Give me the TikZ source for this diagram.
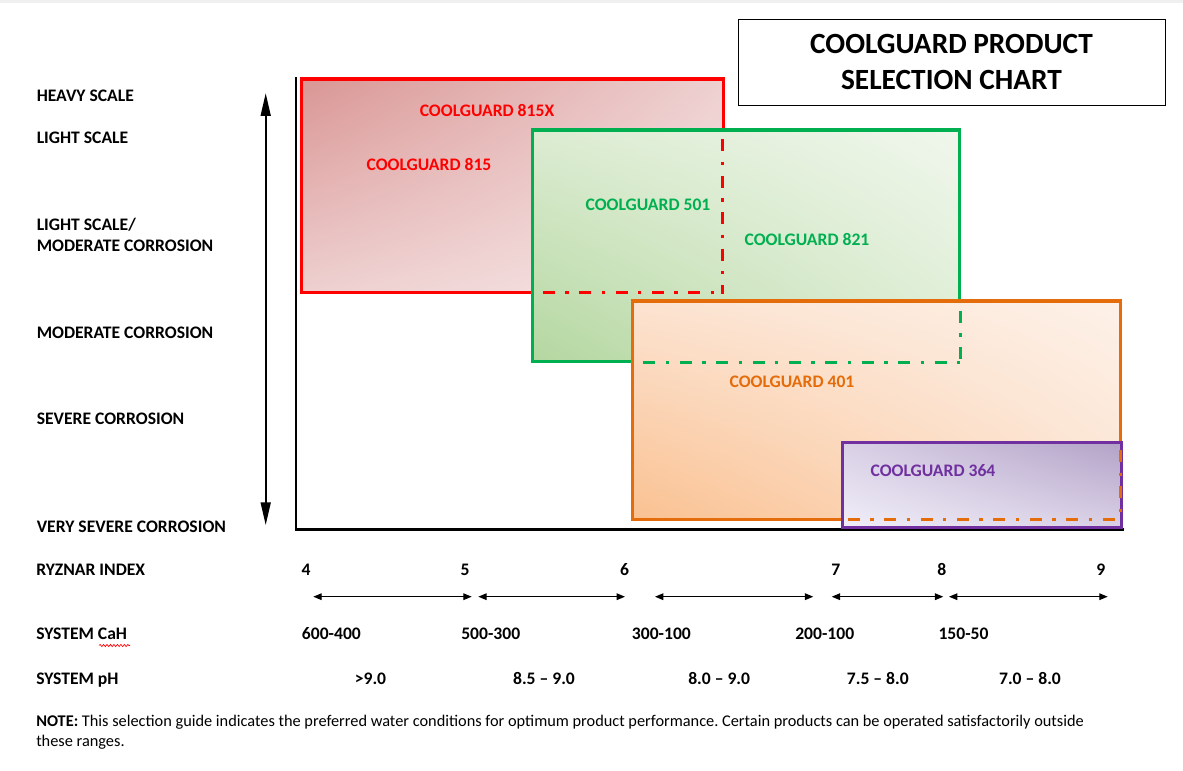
\documentclass[tikz,border=0pt]{standalone}
\usepackage{fontspec}
\setmainfont{Carlito}
\frenchspacing
\usetikzlibrary{arrows.meta,shadings,decorations.pathmorphing}
\definecolor{cgred}{HTML}{FF0000}
\definecolor{cggreen}{HTML}{00B050}
\definecolor{cgorange}{HTML}{E46C0A}
\definecolor{cgpurple}{HTML}{7030A0}
\definecolor{rUL}{HTML}{D99694}
\definecolor{rMID}{HTML}{EED0D0}
\definecolor{rLR}{HTML}{F7E6E6}
\definecolor{gLL}{HTML}{B4D7A0}
\definecolor{gMID}{HTML}{DCECD2}
\definecolor{gUR}{HTML}{F0F7EC}
\definecolor{oLL}{HTML}{FAC191}
\definecolor{oMID}{HTML}{FCE3D1}
\definecolor{oUR}{HTML}{FDF1E8}
\definecolor{pUR}{HTML}{B3A2C7}
\definecolor{pMID}{HTML}{D9D0E6}
\definecolor{pLL}{HTML}{F0EEF8}
\definecolor{topband}{HTML}{F0F0F0}
\begin{document}
\begin{tikzpicture}[x=0.75pt,y=-0.75pt,
  lbl/.style={inner sep=0pt,font=\fontsize{13.2}{15}\selectfont\bfseries},
  notetext/.style={inner sep=0pt,font=\fontsize{12.25}{14}\selectfont},
  ttl/.style={inner sep=0pt,font=\fontsize{22}{26}\selectfont\bfseries},
  boxline/.style={line width=2.4pt},
  dashdot/.style={line width=2.3pt,dash pattern=on 9pt off 7.9pt on 2.5pt off 7.9pt},
  rangearrow/.style={line width=0.9pt,{Triangle[length=6.3pt,width=5pt]}-{Triangle[length=6.3pt,width=5pt]}},
  bigarrow/.style={line width=1.2pt,{Triangle[length=17pt,width=7.5pt]}-{Triangle[length=17pt,width=7.5pt]}},
  axisline/.style={line width=2.2pt,black},
]
\useasboundingbox (0,0) rectangle (1183,771);
\fill[white] (0,0) rectangle (1183,771);
\fill[topband] (0,0) rectangle (1183,3);

% title
\draw[line width=1pt] (738.3,19.3) rectangle (1165.7,105.3);
\node[ttl,anchor=base] (title1) at (951.5,53.3) {COOLGUARD PRODUCT};
\node[ttl,anchor=base] (title2) at (951.5,89.3) {SELECTION CHART};

% axes
\coordinate (axtop) at (296,77.3);
\coordinate (axorigin) at (296,529.7);
\coordinate (axright) at (1124,529.7);
\draw[axisline] (axtop) -- (axorigin) -- (axright);

% red box (815 / 815X)
\shade[upper left=rUL,upper right=rMID,lower left=rMID,lower right=rLR] (301.7,79) rectangle (723.3,292.7);
\draw[boxline,cgred] (301.7,79) rectangle (723.3,292.7);

% green box (501 / 821)
\shade[upper left=gMID,upper right=gUR,lower left=gLL,lower right=gMID] (532.7,130) rectangle (959.7,361.7);
\draw[boxline,cggreen] (532.7,130) rectangle (959.7,361.7);

% red hidden edges
\coordinate (rv1) at (722.8,139.3);
\coordinate (rv2) at (722.8,293.5);
\coordinate (rh1) at (542.7,292.7);
\coordinate (rh2) at (722,292.7);
\draw[dashdot,cgred] (rv1) -- (rv2);
\draw[dashdot,cgred] (rh1) -- (rh2);

% orange box (401)
\shade[upper left=oMID,upper right=oUR,lower left=oLL,lower right=oMID] (632.7,301) rectangle (1120.3,519.7);
\draw[boxline,cgorange] (632.7,301) rectangle (1120.3,519.7);

% green hidden edges
\coordinate (gv1) at (960.3,310.7);
\coordinate (gv2) at (960.3,363);
\coordinate (gh1) at (643.3,362.3);
\coordinate (gh2) at (960,362.3);
\draw[dashdot,cggreen] (gv1) -- (gv2);
\draw[dashdot,cggreen] (gh1) -- (gh2);

% purple box (364)
\shade[upper left=pMID,upper right=pUR,lower left=pLL,lower right=pMID] (842.7,442.7) rectangle (1121.3,527.3);
\draw[boxline,cgpurple] (842.7,442.7) rectangle (1121.3,527.3);

% orange hidden edges
\coordinate (ov1) at (1120.6,450);
\coordinate (ov2) at (1120.6,520);
\coordinate (oh1) at (847.7,519.7);
\coordinate (oh2) at (1117,519.7);
\draw[dashdot,cgorange] (ov1) -- (ov2);
\draw[dashdot,cgorange] (oh1) -- (oh2);

% product labels
\node[lbl,text=cgred,anchor=base] (p815x) at (487,116) {COOLGUARD 815X};
\node[lbl,text=cgred,anchor=base] (p815) at (429,170) {COOLGUARD 815};
\node[lbl,text=cggreen,anchor=base] (p501) at (648,210) {COOLGUARD 501};
\node[lbl,text=cggreen,anchor=base] (p821) at (807,245) {COOLGUARD 821};
\node[lbl,text=cgorange,anchor=base] (p401) at (792,387) {COOLGUARD 401};
\node[lbl,text=cgpurple,anchor=base] (p364) at (933,476) {COOLGUARD 364};

% left scale labels
\node[lbl,anchor=base west] (heavy) at (36.5,101.5) {HEAVY SCALE};
\node[lbl,anchor=base west] (light) at (36.5,143) {LIGHT SCALE};
\node[lbl,anchor=base west] (lsmc1) at (36.5,230) {LIGHT SCALE/};
\node[lbl,anchor=base west] (lsmc2) at (36.5,251.7) {MODERATE CORROSION};
\node[lbl,anchor=base west] (modc) at (36.5,338.3) {MODERATE CORROSION};
\node[lbl,anchor=base west] (sevc) at (36.5,424.3) {SEVERE CORROSION};
\node[lbl,anchor=base west] (vsevc) at (36.5,532.3) {VERY SEVERE CORROSION};

% vertical double arrow
\coordinate (vtop) at (265.7,93.3);
\coordinate (vbot) at (265.7,525);
\draw[bigarrow] (vtop) -- (vbot);

% Ryznar index row
\node[lbl,anchor=base west] (ryz) at (36,575.7) {RYZNAR INDEX};
\node[lbl,anchor=base] (r4) at (306,575.7) {4};
\node[lbl,anchor=base] (r5) at (465,575.7) {5};
\node[lbl,anchor=base] (r6) at (624.5,575.7) {6};
\node[lbl,anchor=base] (r7) at (835.8,575.7) {7};
\node[lbl,anchor=base] (r8) at (941.8,575.7) {8};
\node[lbl,anchor=base] (r9) at (1100.8,575.7) {9};

% range arrows
\coordinate (a1l) at (313.3,596.7); \coordinate (a1r) at (471.7,596.7);
\coordinate (a2l) at (478.3,596.7); \coordinate (a2r) at (625,596.7);
\coordinate (a3l) at (655,596.7);   \coordinate (a3r) at (813.3,596.7);
\coordinate (a4l) at (831.7,596.7); \coordinate (a4r) at (943.3,596.7);
\coordinate (a5l) at (949,596.7);   \coordinate (a5r) at (1107.7,596.7);
\draw[rangearrow] (a1l) -- (a1r);
\draw[rangearrow] (a2l) -- (a2r);
\draw[rangearrow] (a3l) -- (a3r);
\draw[rangearrow] (a4l) -- (a4r);
\draw[rangearrow] (a5l) -- (a5r);

% system CaH row
\node[lbl,anchor=base west] (cah) at (36,639) {SYSTEM CaH};
\coordinate (wv1) at (99,645.5);
\coordinate (wv2) at (130,645.5);
\draw[cgred,line width=0.5pt,decorate,decoration={snake,segment length=2.6pt,amplitude=0.8pt}] (wv1) -- (wv2);
\node[lbl,anchor=base west] (c1) at (301.7,639) {600-400};
\node[lbl,anchor=base west] (c2) at (461,639) {500-300};
\node[lbl,anchor=base west] (c3) at (631.7,639) {300-100};
\node[lbl,anchor=base west] (c4) at (795,639) {200-100};
\node[lbl,anchor=base west] (c5) at (938.3,639) {150-50};

% system pH row
\node[lbl,anchor=base west] (ph) at (36,684) {SYSTEM pH};
\node[lbl,anchor=base] (ph1) at (370.5,684) {>9.0};
\node[lbl,anchor=base] (ph2) at (544,684) {8.5 – 9.0};
\node[lbl,anchor=base] (ph3) at (719.2,684) {8.0 – 9.0};
\node[lbl,anchor=base] (ph4) at (877.8,684) {7.5 – 8.0};
\node[lbl,anchor=base] (ph5) at (1030,684) {7.0 – 8.0};

% note
\node[notetext,anchor=base west] (note1) at (36,726.7) {\textbf{NOTE:} This selection guide indicates the preferred water conditions for optimum product performance. Certain products can be operated satisfactorily outside};
\node[notetext,anchor=base west] (note2) at (36,746) {these ranges.};
\end{tikzpicture}
\end{document}
